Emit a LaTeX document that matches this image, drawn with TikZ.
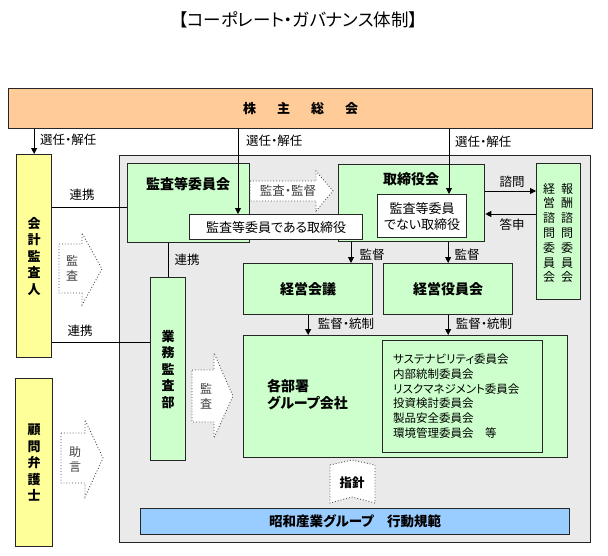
\documentclass[tikz,border=0pt]{standalone}
\usepackage{fontspec}
\setmainfont{Noto Sans CJK JP}[RawFeature=+palt]
\usepackage{tikz}
\usetikzlibrary{arrows.meta}
\definecolor{soukaiiro}{HTML}{FFCC99}
\definecolor{kiiro}{HTML}{FFFF99}
\definecolor{midori}{HTML}{CCFFCC}
\definecolor{haiiro}{HTML}{EAEAEA}
\definecolor{aoiro}{HTML}{99CCFF}

\begin{document}
\begin{tikzpicture}[x=1pt,y=-1pt]
\tikzstyle{every node}+=[inner sep=0pt]
\tikzstyle{orgbox}=[draw=black!85,line width=1.3pt,anchor=north west]
\tikzstyle{arr}=[black,line width=0.9pt,-{Triangle[length=6pt,width=6pt]}]
\tikzstyle{rline}=[black,line width=0.9pt]
\tikzstyle{lbl}=[font=\fontsize{12.5}{14}\selectfont]
\tikzstyle{ttl}=[font=\bfseries\fontsize{14}{16}\selectfont]
\tikzstyle{tate}=[align=center,font=\bfseries\fontsize{13}{16.5}\selectfont]
\tikzstyle{tate2}=[align=center,font=\fontsize{12}{14.8}\selectfont]
\tikzstyle{tate3}=[align=center,text=black!75,font=\fontsize{12}{15}\selectfont]
\tikzstyle{dotarrow}=[draw=black!70,dotted,line width=0.9pt,fill=white]
\useasboundingbox (0,0) rectangle (608,555);
\node[font=\fontsize{17.5}{19}\selectfont] (title) at (298,20) {【コーポレート・ガバナンス体制】};
\node[orgbox,fill=soukaiiro,minimum width=584pt,minimum height=40pt,font=\bfseries\fontsize{13}{15}\selectfont] (soukai) at (8,88) {株\hspace{21pt}主\hspace{21pt}総\hspace{21pt}会};
\node[orgbox,tate,fill=kiiro,minimum width=35pt,minimum height=203pt] (kaikei) at (16,154) {会\\計\\監\\査\\人};
\node[orgbox,tate,fill=kiiro,minimum width=37pt,minimum height=168pt] (komon) at (15,378) {顧\\問\\弁\\護\\士};
\node[orgbox,fill=haiiro,minimum width=471pt,minimum height=387pt] (honsha) at (119,155) {};
\node[orgbox,fill=midori,minimum width=122pt,minimum height=79pt] (kansa) at (127,163) {};
\node[ttl] at (188,184) {監査等委員会};
\node[orgbox,fill=midori,minimum width=146pt,minimum height=77pt] (torishimari) at (338,164) {};
\node[ttl] at (411,179) {取締役会};
\node[orgbox,fill=white,minimum width=173pt,minimum height=25pt,font=\fontsize{13}{15}\selectfont] (kansatori) at (189,214) {監査等委員である取締役};
\node[orgbox,fill=white,minimum width=89pt,minimum height=43pt,align=center,font=\fontsize{13}{16}\selectfont] (hikansa) at (377,194) {監査等委員\\でない取締役};
\node[orgbox,fill=midori,minimum width=44pt,minimum height=136pt] (shimon) at (536,163) {};
\node[tate2] at (567,233) {報\\酬\\諮\\問\\委\\員\\会};
\node[tate2] at (549,233) {経\\営\\諮\\問\\委\\員\\会};
\node[orgbox,ttl,fill=midori,minimum width=129pt,minimum height=51pt] (kaigi) at (243,263) {経営会議};
\node[orgbox,ttl,fill=midori,minimum width=129pt,minimum height=51pt] (yakuin) at (383,263) {経営役員会};
\node[orgbox,tate,fill=midori,minimum width=35pt,minimum height=183pt] (gyomu) at (150,277) {業\\務\\監\\査\\部};
\node[orgbox,fill=midori,minimum width=324pt,minimum height=122pt] (busho) at (243,335) {};
\node[anchor=west,align=left,font=\bfseries\fontsize{14}{17}\selectfont] at (267,395) {各部署\\グループ会社};
\node[orgbox,fill=midori,minimum width=160pt,minimum height=112pt] (iinkai) at (382,340) {};
\node[anchor=west,align=left,font=\fontsize{11.5}{14.7}\selectfont] at (393,396) {サステナビリティ委員会\\内部統制委員会\\リスクマネジメント委員会\\投資検討委員会\\製品安全委員会\\環境管理委員会　等};
\node[orgbox,fill=aoiro,minimum width=429pt,minimum height=26pt,font=\bfseries\fontsize{13.5}{15}\selectfont] (kodo) at (140,508) {昭和産業グループ　行動規範};
\coordinate (x1) at (238,0);
\coordinate (x2) at (449,0);
\coordinate (x3) at (351,0);
\coordinate (y1) at (0,207);
\coordinate (y2) at (0,342);
\coordinate (y3) at (0,191);
\coordinate (y4) at (0,214);
\draw[arr] (soukai.south -| kaikei.north) -- (kaikei.north);
\draw[arr] (soukai.south -| x1) -- (kansatori.north -| x1);
\draw[arr] (soukai.south -| x2) -- (hikansa.north -| x2);
\draw[arr] (torishimari.east |- y3) -- (shimon.west |- y3);
\draw[arr] (shimon.west |- y4) -- (torishimari.east |- y4);
\draw[arr] (torishimari.south -| x3) -- (kaigi.north -| x3);
\draw[arr] (torishimari.south -| yakuin.north) -- (yakuin.north);
\draw[arr] (kaigi.south) -- (kaigi.south |- busho.north);
\draw[arr] (yakuin.south) -- (yakuin.south |- busho.north);
\draw[rline] (kaikei.east |- y1) -- (kansa.west |- y1);
\draw[rline] (kaikei.east |- y2) -- (gyomu.west |- y2);
\draw[rline] (kansa.south -| gyomu.north) -- (gyomu.north);
\node[lbl,anchor=west] at (40,140) {選任・解任};
\node[lbl,anchor=west] at (246,141) {選任・解任};
\node[lbl,anchor=west] at (455,142) {選任・解任};
\node[lbl] at (82,195) {連携};
\node[lbl] at (80,331) {連携};
\node[lbl] at (187,260) {連携};
\node[lbl] at (512,182) {諮問};
\node[lbl] at (512,225) {答申};
\node[lbl] at (372,255) {監督};
\node[lbl] at (467,255) {監督};
\node[lbl] at (346,324) {監督・統制};
\node[lbl] at (484,324) {監督・統制};
\draw[dotarrow] (250,181) -- (316,181) -- (316,171) -- (333,191) -- (316,211) -- (316,201) -- (250,201) -- cycle;
\node[lbl,text=black!75] at (288,191) {監査・監督};
\draw[dotarrow] (59,244) -- (82,244) -- (82,233) -- (102,269) -- (82,305) -- (82,293) -- (59,293) -- cycle;
\node[tate3] at (72,268) {監\\査};
\draw[dotarrow] (61,433) -- (85,433) -- (85,420) -- (103,458) -- (85,497) -- (85,483) -- (61,483) -- cycle;
\node[tate3] at (75,459) {助\\言};
\draw[dotarrow] (192,370) -- (214,370) -- (214,353) -- (233,396) -- (214,438) -- (214,422) -- (192,422) -- cycle;
\node[tate3] at (206,396) {監\\査};
\draw[dotarrow] (330,465) -- (352,460) -- (375,465) -- (375,503) -- (352,497) -- (330,503) -- cycle;
\node[font=\bfseries\fontsize{12.5}{14}\selectfont] at (352,483) {指針};
\end{tikzpicture}
\end{document}
